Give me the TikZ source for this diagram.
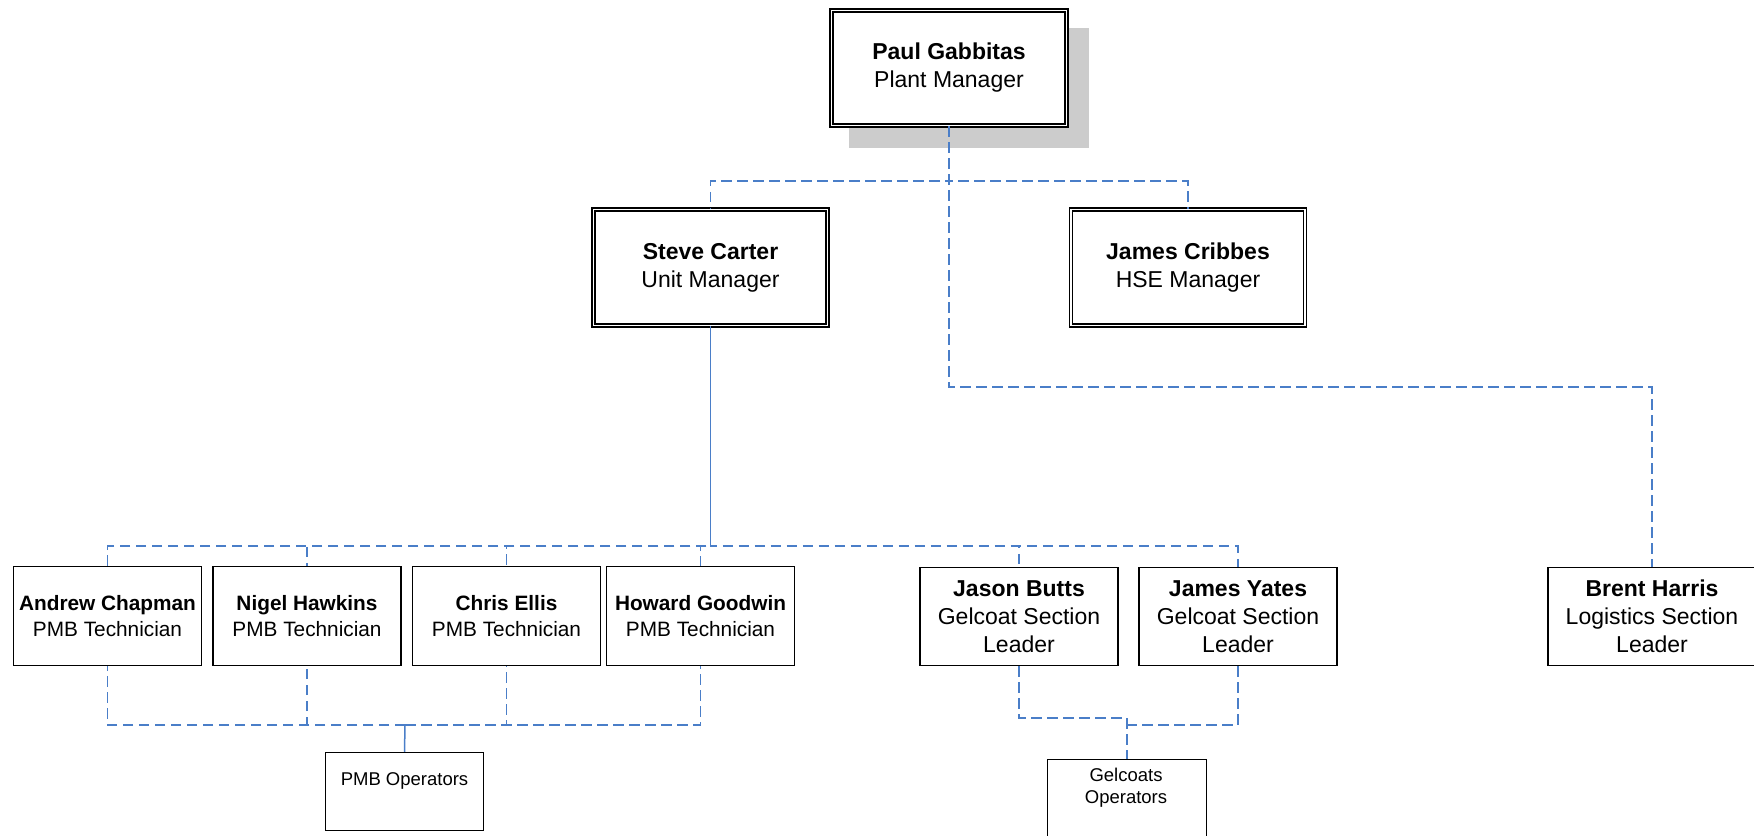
\documentclass[tikz,border=0pt]{standalone}
\usepackage{fontspec}
\setmainfont{Liberation Sans}
\definecolor{linkblue}{HTML}{4A7EC8}
\definecolor{shadowgray}{HTML}{CCCCCC}
\begin{document}
\begin{tikzpicture}[x=0.5pt,y=-0.5pt,
  dbox/.style={draw, double, line width=0.8pt, double distance=0.8pt, fill=white,
    align=center, inner sep=0pt, minimum width=117pt, minimum height=58pt,
    font=\fontsize{11.5}{14}\selectfont},
  sbox/.style={draw, line width=0.75pt, fill=white, align=center, inner sep=0pt},
  techbox/.style={sbox, minimum width=94pt, minimum height=49.5pt,
    font=\fontsize{10.4}{12.8}\selectfont},
  leadbox/.style={sbox, minimum width=99pt, minimum height=49pt,
    font=\fontsize{11.5}{14}\selectfont},
  optext/.style={font=\fontsize{9.25}{11}\selectfont, align=center, inner sep=0pt},
  link/.style={draw=linkblue, line width=0.75pt, dash pattern=on 5.25pt off 2.75pt},
  solidlink/.style={draw=linkblue, line width=0.75pt}
]
\useasboundingbox (0,0) rectangle (1754,835);

% shadow of the top box
\fill[shadowgray] (849,28) rectangle (1089,148);

% nodes
\node[dbox, minimum width=117.5pt, minimum height=57.5pt] (paul) at (949,68) {\textbf{Paul Gabbitas}\\Plant Manager};
\node[dbox] (steve) at (710.5,267.5) {\textbf{Steve Carter}\\Unit Manager};
\node[dbox] (james) at (1188,267.5) {\textbf{James Cribbes}\\HSE Manager};

\node[techbox] (andrew) at (107.5,616) {\textbf{Andrew Chapman}\\PMB Technician};
\node[techbox] (nigel) at (307,616) {\textbf{Nigel Hawkins}\\PMB Technician};
\node[techbox] (chris) at (506.5,616) {\textbf{Chris Ellis}\\PMB Technician};
\node[techbox] (howard) at (700.5,616) {\textbf{Howard Goodwin}\\PMB Technician};

\node[leadbox] (jason) at (1019,616.5) {\textbf{Jason Butts}\\Gelcoat Section\\Leader};
\node[leadbox] (yates) at (1238,616.5) {\textbf{James Yates}\\Gelcoat Section\\Leader};
\node[leadbox, minimum width=104pt] (brent) at (1652,616.5) {\textbf{Brent Harris}\\Logistics Section\\Leader};

\node[sbox, minimum width=79pt, minimum height=39pt, font=\fontsize{9.25}{11}\selectfont,
  text height=7pt, text depth=13.5pt] (pmbop) at (404.5,791.5) {PMB Operators};
\node[sbox, minimum width=79.5pt, minimum height=42pt, anchor=north] (gelop) at (1127,758.7) {};
\node[optext, anchor=north] (geltext) at (1126,767.5) {Gelcoats\\Operators};

% connectors from Paul
\coordinate (pbus) at (949,181);
\draw[link] (paul.south) -- (pbus) -| (steve.north);
\draw[link] (paul.south) -- (pbus) -| (james.north);
\draw[link] (paul.south) -- (949,387) -| (brent.north);

% connectors from Steve
\coordinate (sbus) at (711,546);
\foreach \n in {andrew,nigel,chris,howard}
  \draw[link] (steve.south) -- (steve.south |- sbus) -| (\n.north);
\foreach \n in {jason,yates}
  \draw[link, dash phase=4pt] (steve.south) -- (steve.south |- sbus) -| (\n.north);

% PMB technicians to PMB Operators
\coordinate (pmbbus) at (405,725);
\foreach \n in {andrew,nigel,chris,howard}
  \draw[link] (pmbbus) -| (\n.south);
\draw[solidlink] (pmbbus) -- (pmbop.north);

% Gelcoat leaders to Gelcoats Operators
\coordinate (gbusA) at (1127,718);
\coordinate (gbusB) at (1127,725);
\draw[link] (jason.south) |- (gbusA) -- (gelop.north);
\draw[link] (yates.south) |- (gbusB);
\end{tikzpicture}
\end{document}
